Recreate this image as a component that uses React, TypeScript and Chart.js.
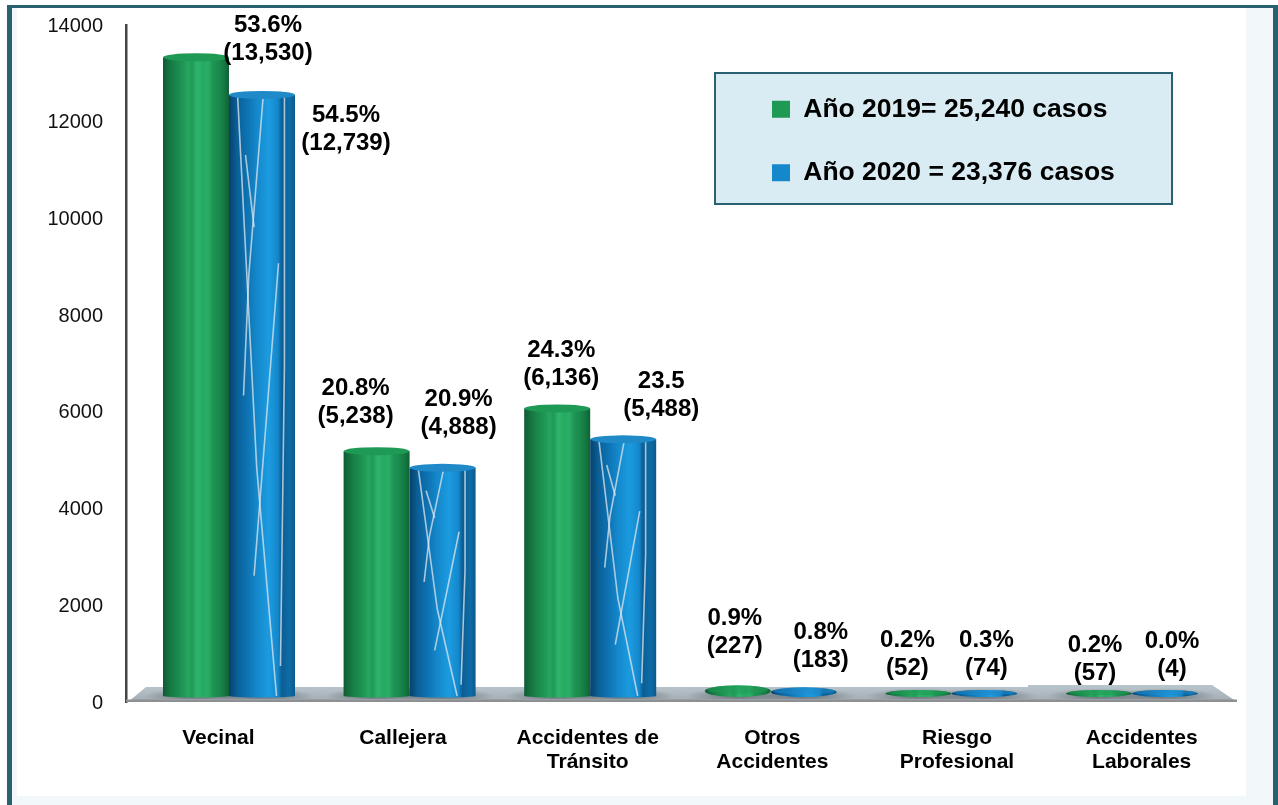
import React, { useEffect, useRef } from "react";
import { Chart, registerables } from "chart.js";

Chart.register(...registerables);

const categories = [
  "Vecinal",
  "Callejera",
  ["Accidentes de", "Tránsito"],
  ["Otros", "Accidentes"],
  ["Riesgo", "Profesional"],
  ["Accidentes", "Laborales"],
];
const values2019 = [13530, 5238, 6136, 227, 52, 57];
const values2020 = [12739, 4888, 5488, 183, 74, 4];
const percents2019 = ["53.6%", "20.8%", "24.3%", "0.9%", "0.2%", "0.2%"];
const percents2020 = ["54.5%", "20.9%", "23.5", "0.8%", "0.3%", "0.0%"];
const legend2019 = "Año 2019= 25,240 casos";
const legend2020 = "Año 2020 = 23,376 casos";
const yTickMax = 14000;
const yTickStep = 2000;

// label placement relative to the bar tops
const labelShift2019 = [[72, -28], [-21, -59], [4, -54], [-3, -67], [-11, -53], [-4, -48]];
const labelShift2020 = [[84, 24], [16, -64], [38, -54], [17, -55], [2, -52], [7, -54]];

const FONT = '"Liberation Sans", Arial, sans-serif';
const TEAL = "#2a6171";

const greenStops: [number, string][] = [
  [0, "#0f5a34"], [0.06, "#136b3c"], [0.14, "#177d45"], [0.22, "#1a8a4c"], [0.3, "#1f9654"], [0.38, "#27a660"],
  [0.44, "#1f9a55"], [0.52, "#2fb56b"], [0.6, "#27a962"], [0.68, "#2aae66"], [0.76, "#1f9454"], [0.84, "#1b8a4d"],
  [0.92, "#157a43"], [1, "#0f6236"],
];
const blueStops: [number, string][] = [
  [0, "#07406c"], [0.12, "#0a5f96"], [0.25, "#0d6fae"], [0.42, "#1488cb"], [0.6, "#1c9be0"],
  [0.74, "#1488cc"], [0.8, "#0b5e94"], [0.92, "#0f6ca6"], [1, "#0a5a8c"],
];
const blueStreaks = [
  [[0.13, 0], [0.42, 0.62], [0.72, 1]],
  [[0.52, 0], [0.3, 0.3], [0.22, 0.5]],
  [[0.84, 0], [0.84, 0.45], [0.78, 0.95]],
  [[0.75, 0.28], [0.58, 0.52], [0.38, 0.8]],
  [[0.25, 0.1], [0.38, 0.22]],
];

function cylinder(ctx: CanvasRenderingContext2D, el: any, base: number, stops: [number, string][], cap: string, streaks: boolean) {
  const { x, y, width } = el.getProps(["x", "y", "width"], true);
  const l = x - width / 2;
  const r = x + width / 2;
  const g = ctx.createLinearGradient(l, 0, r, 0);
  stops.forEach(([o, c]) => g.addColorStop(o, c));
  ctx.save();
  if (base - y < 24) {
    // flattened discs for the very small values
    const ry = Math.max(3.5, (base + 1 - y) / 2);
    const cy = Math.min(base + 1 - ry, y + ry);
    ctx.fillStyle = g;
    ctx.beginPath();
    ctx.ellipse(x, cy, width / 2, ry, 0, 0, Math.PI * 2);
    ctx.fill();
    ctx.fillStyle = cap;
    ctx.globalAlpha = 0.55;
    ctx.beginPath();
    ctx.ellipse(x, cy - ry * 0.25, width / 2 - 2, ry * 0.7, 0, 0, Math.PI * 2);
    ctx.fill();
    ctx.restore();
    return;
  }
  const ry = 4;
  const top = y + ry;
  const bottom = base;
  ctx.fillStyle = g;
  ctx.beginPath();
  ctx.moveTo(l, top);
  ctx.lineTo(r, top);
  ctx.lineTo(r, bottom);
  ctx.ellipse(x, bottom, width / 2, 1.5, 0, 0, Math.PI);
  ctx.lineTo(l, top);
  ctx.fill();
  if (streaks) {
    ctx.strokeStyle = "rgba(222,230,238,0.75)";
    ctx.lineWidth = 1.6;
    blueStreaks.forEach((line) => {
      ctx.beginPath();
      line.forEach(([fx, fy], i) => {
        const px = l + fx * width;
        const py = top + fy * (bottom - top);
        if (i === 0) ctx.moveTo(px, py);
        else ctx.lineTo(px, py);
      });
      ctx.stroke();
    });
  }
  ctx.fillStyle = cap;
  ctx.beginPath();
  ctx.ellipse(x, top, width / 2, ry, 0, 0, Math.PI * 2);
  ctx.fill();
  ctx.restore();
}

const scenePlugin = {
  id: "scene",
  beforeDraw(chart: any) {
    const { ctx } = chart;
    ctx.save();
    // legend panel
    ctx.fillStyle = "#d9ecf3";
    ctx.strokeStyle = TEAL;
    ctx.lineWidth = 2;
    ctx.fillRect(715, 73, 457, 131);
    ctx.strokeRect(715, 73, 457, 131);
    ctx.restore();
  },
  afterLayout(chart: any) {
    const lg = chart.legend;
    lg.left = 735;
    lg.right = 1160;
    lg.top = 59;
    lg.bottom = 500;
  },
  beforeDatasetsDraw(chart: any) {
    const { ctx, chartArea } = chart;
    const baseY = chart.scales.y1.getPixelForValue(0);
    const left = chartArea.left;
    const bottom = chartArea.bottom;
    ctx.save();
    // floor
    const g = ctx.createLinearGradient(0, baseY - 9, 0, bottom);
    g.addColorStop(0, "#b7c3ca");
    g.addColorStop(1, "#a2acb2");
    ctx.fillStyle = g;
    ctx.beginPath();
    ctx.moveTo(left + 2, bottom);
    ctx.lineTo(left + 20, baseY - 9);
    ctx.lineTo(1028, baseY - 9);
    ctx.lineTo(1028, baseY - 11);
    ctx.lineTo(1212, baseY - 11);
    ctx.lineTo(1237, bottom);
    ctx.closePath();
    ctx.fill();
    ctx.fillStyle = "#8d8f92";
    ctx.fillRect(left, bottom - 2.5, 1237 - left, 2.5);
    // shadows around the bars
    chart.data.datasets.forEach((_: any, di: number) => {
      chart.getDatasetMeta(di).data.forEach((el: any) => {
        const s = ctx.createRadialGradient(el.x, baseY, 10, el.x, baseY, 52);
        s.addColorStop(0, "rgba(70,80,86,0.55)");
        s.addColorStop(1, "rgba(70,80,86,0)");
        ctx.save();
        ctx.beginPath();
        ctx.rect(el.x - 55, baseY - 9, 110, bottom - baseY + 6);
        ctx.clip();
        ctx.translate(0, baseY);
        ctx.scale(1, 0.15);
        ctx.translate(0, -baseY);
        ctx.fillStyle = s;
        ctx.fillRect(el.x - 55, baseY - 60, 110, 120);
        ctx.restore();
      });
    });
    ctx.restore();
  },
  // the bars are painted as cylinders from their elements in afterDatasetsDraw
  beforeDatasetDraw() {
    return false;
  },
  afterDatasetsDraw(chart: any) {
    const { ctx } = chart;
    const baseY = chart.scales.y1.getPixelForValue(0);
    chart.getDatasetMeta(0).data.forEach((el: any) => cylinder(ctx, el, baseY, greenStops, "#1f9a55", false));
    chart.getDatasetMeta(1).data.forEach((el: any) => {
      const tall = baseY - el.y > 100;
      cylinder(ctx, el, baseY, blueStops, "#2089c8", tall);
    });
    const write = (di: number, pcts: string[], vals: number[], shift: number[][]) => {
      chart.getDatasetMeta(di).data.forEach((el: any, i: number) => {
        const x = el.x + shift[i][0];
        const y = el.y + shift[i][1];
        ctx.fillText(pcts[i], x, y);
        ctx.fillText(`(${vals[i].toLocaleString("en-US")})`, x, y + 28);
      });
    };
    ctx.save();
    ctx.fillStyle = "#000";
    ctx.font = `bold 24px ${FONT}`;
    ctx.textAlign = "center";
    ctx.textBaseline = "middle";
    write(0, percents2019, values2019, labelShift2019);
    write(1, percents2020, values2020, labelShift2020);
    ctx.restore();
  },
};

export default function App() {
  const ref = useRef<HTMLCanvasElement | null>(null);

  useEffect(() => {
    if (!ref.current) return;
    const toPoints = (vals: number[]) => vals.map((y, x) => ({ x, y }));
    const chart = new Chart(ref.current, {
      type: "bar",
      data: {
        labels: categories as any,
        datasets: [
          { label: legend2019, data: toPoints(values2019) as any, backgroundColor: "#1f9a55", xAxisID: "x", yAxisID: "y1", barThickness: 66 },
          { label: legend2020, data: toPoints(values2020) as any, backgroundColor: "#1488cb", xAxisID: "x", yAxisID: "y1", barThickness: 66 },
        ],
      },
      options: {
        animation: false,
        responsive: false,
        layout: { padding: { top: 25, right: 44, left: 0, bottom: 0 } },
        plugins: {
          title: { display: false },
          tooltip: { enabled: false },
          legend: {
            position: "chartArea",
            align: "start",
            labels: {
              color: "#000",
              font: { family: FONT, size: 26.5, weight: "bold" },
              boxWidth: 18,
              boxHeight: 17,
              padding: 37,
            },
          },
        } as any,
        scales: {
          x: { type: "linear", display: false, offset: false, min: -0.5703, max: 5.5648, grid: { display: false, offset: false } },
          y1: { type: "linear", display: false, position: "left", min: -126, max: 14126, grid: { display: false } },
          y: {
            type: "linear",
            position: "left",
            min: 0,
            max: yTickMax,
            grid: { display: false, drawTicks: false },
            border: { display: true, color: "#444", width: 2.5 },
            ticks: {
              stepSize: yTickStep,
              padding: 23,
              labelOffset: 1,
              color: "#111",
              font: { family: FONT, size: 20 },
              callback: (v: any) => String(v),
            },
            afterFit(s: any) {
              s.width = 126;
              s.paddingTop = 0;
              s.paddingBottom = 0;
            },
          },
          xLabels: {
            type: "category",
            axis: "x",
            position: "bottom",
            offset: true,
            grid: { display: false, drawTicks: false },
            border: { display: false },
            ticks: {
              padding: 24,
              maxRotation: 0,
              autoSkip: false,
              color: "#000",
              font: { family: FONT, size: 21, weight: "bold", lineHeight: 1.15 },
            },
            afterFit(s: any) {
              s.height = 103;
              s.paddingLeft = 0;
              s.paddingRight = 0;
            },
          },
        } as any,
      },
      plugins: [scenePlugin as any],
    });
    return () => chart.destroy();
  }, []);

  return (
    <div style={{ position: "absolute", left: 0, top: 0, width: 1278, height: 805, background: "#fff", overflow: "hidden" }}>
      <div style={{ position: "absolute", left: 7, top: 5, width: 1271, height: 800, background: TEAL }} />
      <div style={{ position: "absolute", left: 12, top: 8, width: 1261, height: 797, background: "#f2f7fa" }} />
      <div style={{ position: "absolute", left: 17, top: 8, width: 1229, height: 788, background: "#fff" }} />
      <canvas ref={ref} width={1278} height={805} style={{ position: "absolute", left: 0, top: 0, display: "block" }} />
    </div>
  );
}
